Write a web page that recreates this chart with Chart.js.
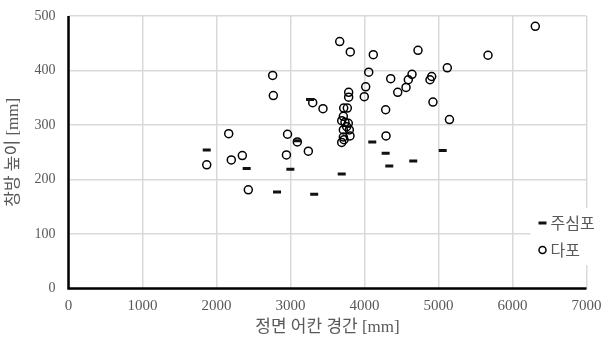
<!DOCTYPE html>
<html lang="ko">
<head>
<meta charset="utf-8">
<script src="https://cdn.jsdelivr.net/npm/chart.js@4/dist/chart.umd.min.js"></script>
<style>
    html, body { margin: 0; padding: 0; background: #fff; }
    #wrap { width: 603px; height: 342px; position: relative; }
</style>
</head>
<body>
<div id="wrap"><canvas id="scatter"></canvas></div>
<script>
// 주심포 : 정면 어칸 경간 / 창방 높이 (mm)
const jusimpoSpan   = [1868, 2408, 2818, 2998, 3090, 3264, 3320, 3692, 4105, 4286, 4335, 4659, 5057];
const jusimpoHeight = [254,  220,  177,  219,  271,  347,  173,  210,  269,  248,  225,  234,  253];

// 다포
const dapoSpan = [
    1868, 2165, 2200, 2349, 2430, 2759, 2768, 2945, 2960, 3092,
    3241, 3300, 3439, 3665, 3808, 3786, 3786, 3719, 3768, 3714,
    3692, 3736, 3781, 3759, 3714, 3795, 3804, 3714, 3692, 3723,
    4119, 4723, 5669, 6308, 4057, 4354, 4642, 4592, 4561, 4449,
    4016, 3997, 4908, 4885, 5119, 4925, 5148, 4286, 4291
];
const dapoHeight = [
    227, 284, 236, 244, 181, 391, 354, 245, 283, 269,
    252, 341, 330, 453, 434, 360, 351, 331, 331, 316,
    308, 305, 303, 297, 291, 291, 280, 278, 268, 273,
    429, 437, 428, 481, 397, 385, 393, 383, 369, 360,
    370, 352, 389, 383, 405, 342, 310, 328, 280
];

const xTicks = [0, 1000, 2000, 3000, 4000, 5000, 6000, 7000];
const yTicks = [0, 100, 200, 300, 400, 500];

const GRAY = '#595959';
const SERIF = "'Times New Roman', 'Liberation Serif', serif";
const SERIF_KR = "'Times New Roman', 'Liberation Serif', 'Noto Sans CJK KR', sans-serif";

function toPoints(xs, ys) {
    return xs.map((x, i) => ({ x: x, y: ys[i] }));
}

// legend box drawn inside the plot area, bottom right
const innerLegend = {
    id: 'innerLegend',
    afterDraw(chart) {
        const ctx = chart.ctx;
        const area = chart.chartArea;
        const left = area.right - 56;
        const top = area.top + 192;
        ctx.save();
        ctx.fillStyle = '#fff';
        ctx.fillRect(left, top, chart.width - left, 57);
        chart.data.datasets.forEach((ds, i) => {
            const cy = top + 15 + i * 27;
            const mx = left + 12;
            ctx.strokeStyle = ds.borderColor;
            ctx.lineWidth = ds.borderWidth;
            ctx.beginPath();
            if (ds.pointStyle === 'line') {
                ctx.moveTo(mx - 4, cy);
                ctx.lineTo(mx + 4, cy);
            } else {
                ctx.arc(mx, cy, 3.5, 0, Math.PI * 2);
            }
            ctx.stroke();
            ctx.fillStyle = GRAY;
            ctx.font = "16px 'Noto Sans CJK KR', sans-serif";
            ctx.textBaseline = 'middle';
            ctx.textAlign = 'left';
            ctx.fillText(ds.label, mx + 8, cy);
        });
        ctx.restore();
    }
};

// heavy black axis lines on the left and bottom
const axisLines = {
    id: 'axisLines',
    afterDatasetsDraw(chart) {
        const ctx = chart.ctx;
        const a = chart.chartArea;
        ctx.save();
        ctx.strokeStyle = '#000';
        ctx.lineWidth = 2.5;
        ctx.beginPath();
        ctx.moveTo(a.left, a.top);
        ctx.lineTo(a.left, a.bottom);
        ctx.lineTo(a.right, a.bottom);
        ctx.stroke();
        ctx.restore();
    }
};

new Chart(document.getElementById('scatter'), {
    type: 'scatter',
    data: {
        datasets: [
            {
                label: '주심포',
                data: toPoints(jusimpoSpan, jusimpoHeight),
                pointStyle: 'line',
                pointRadius: 4,
                borderColor: '#111',
                borderWidth: 3,
                backgroundColor: '#111'
            },
            {
                label: '다포',
                data: toPoints(dapoSpan, dapoHeight),
                pointStyle: 'circle',
                pointRadius: 4,
                borderColor: '#000',
                borderWidth: 1.5,
                backgroundColor: 'rgba(0,0,0,0)'
            }
        ]
    },
    options: {
        responsive: true,
        maintainAspectRatio: false,
        animation: false,
        layout: { padding: { left: 0, right: 16.5, top: 16, bottom: 0 } },
        plugins: {
            legend: { display: false },
            tooltip: { enabled: false }
        },
        scales: {
            x: {
                type: 'linear',
                min: xTicks[0],
                max: xTicks[xTicks.length - 1],
                afterBuildTicks: (s) => { s.ticks = xTicks.map(v => ({ value: v })); },
                afterFit: (s) => {
                    s.height = 53.5;
                    s.paddingLeft = 0;
                    s.paddingRight = 0;
                },
                grid: { color: '#d9d9d9', lineWidth: 1.5, drawTicks: false },
                border: { display: false },
                ticks: {
                    color: GRAY,
                    padding: 9,
                    callback: (v) => String(v),
                    font: { family: SERIF, size: 15 }
                },
                title: {
                    display: true,
                    text: '정면 어칸 경간 [mm]',
                    color: GRAY,
                    padding: { top: 0, bottom: 4 },
                    font: { family: SERIF_KR, size: 17 }
                }
            },
            y: {
                type: 'linear',
                min: yTicks[0],
                max: yTicks[yTicks.length - 1],
                afterBuildTicks: (s) => { s.ticks = yTicks.map(v => ({ value: v })); },
                afterFit: (s) => {
                    s.width = 68.5;
                    s.paddingTop = 0;
                    s.paddingBottom = 0;
                },
                grid: { color: '#d9d9d9', lineWidth: 1.5, drawTicks: false },
                border: { display: false },
                ticks: {
                    color: GRAY,
                    padding: 13,
                    callback: (v) => String(v),
                    font: { family: SERIF, size: 14 }
                },
                title: {
                    display: true,
                    text: '창방 높이 [mm]',
                    color: GRAY,
                    padding: { top: 3, bottom: 0 },
                    font: { family: SERIF_KR, size: 17 }
                }
            }
        }
    },
    plugins: [axisLines, innerLegend]
});
</script>
</body>
</html>
